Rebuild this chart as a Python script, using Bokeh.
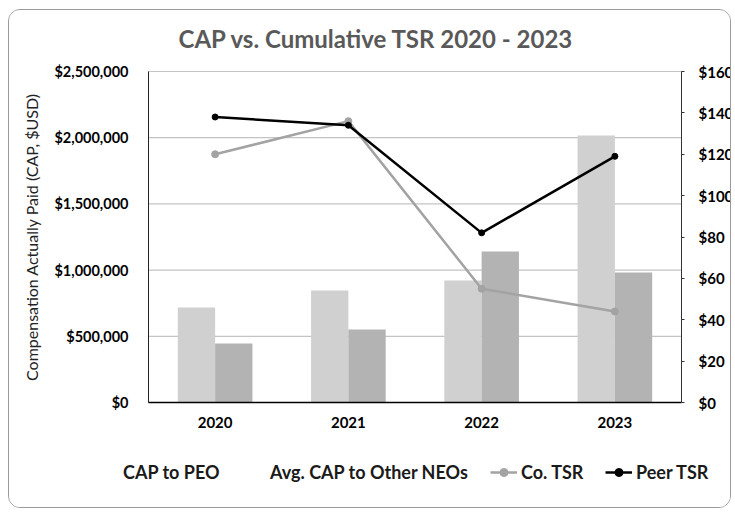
from bokeh.plotting import figure
from bokeh.models import (Range1d, LinearAxis, NumeralTickFormatter, ColumnDataSource,
                          Legend, LegendItem, FixedTicker, Label)
from bokeh.transform import dodge
from bokeh.embed import file_html
from bokeh.resources import INLINE

years = ["2020", "2021", "2022", "2023"]
cap_peo = [717000, 846000, 921000, 2017000]
cap_neo = [446000, 551000, 1140000, 982000]
co_tsr = [120, 136, 55, 44]
peer_tsr = [138, 134, 82, 119]

left_ticks = [0, 500000, 1000000, 1500000, 2000000, 2500000]
right_ticks = [0, 20, 40, 60, 80, 100, 120, 140, 160]
left_max = 2500000
right_max = 160

FONT = "Lato"

# canvas geometry (px) and the plot area inside it
CW, CH = 723, 499
AREA_L, AREA_R, AREA_T, AREA_B = 139, 672, 61, 392

n = len(years)
xc = [i + 0.5 for i in range(n)]
unit_x = (AREA_R - AREA_L) / n
x_start = -AREA_L / unit_x
x_end = n + (CW - AREA_R) / unit_x
per_left = left_max / (AREA_B - AREA_T)
per_right = right_max / (AREA_B - AREA_T)

src = ColumnDataSource(dict(xc=xc, year=years, peo=cap_peo, neo=cap_neo, co=co_tsr, peer=peer_tsr))

p = figure(width=CW, height=CH, title=None, x_axis_type=None, y_axis_type=None,
           x_range=Range1d(x_start, x_end),
           y_range=Range1d(-(CH - AREA_B) * per_left, left_max + AREA_T * per_left),
           output_backend="svg", toolbar_location=None, min_border=0,
           background_fill_color="white", border_fill_color="white")
p.outline_line_color = None
p.styles = {"border": "1px solid #9a9a9a", "border-radius": "12px", "overflow": "hidden",
            "margin-left": "8px", "margin-top": "9px"}
p.extra_y_ranges = {"tsr": Range1d(-(CH - AREA_B) * per_right, right_max + AREA_T * per_right)}

# gridlines at the left-axis ticks, spanning the category area
grid_src = ColumnDataSource(dict(y=left_ticks, x0=[0] * len(left_ticks), x1=[n] * len(left_ticks)))
p.segment(x0="x0", x1="x1", y0="y", y1="y", source=grid_src, line_color="#c4c4c4",
          line_width=1.2, level="underlay")

# left axis
ya = LinearAxis(fixed_location=0, bounds=(0, left_max), ticker=FixedTicker(ticks=left_ticks),
                formatter=NumeralTickFormatter(format="$0,0"))
ya.major_tick_out = 0
ya.major_tick_in = 0
ya.minor_tick_out = 0
ya.minor_tick_in = 0
ya.axis_line_color = "#222222"
ya.major_label_standoff = 20
ya.major_label_text_font = FONT
ya.major_label_text_font_style = "bold"
ya.major_label_text_font_size = "14.5px"
ya.major_label_text_color = "black"
ya.axis_label = "Compensation Actually Paid (CAP, $USD)"
ya.axis_label_text_font = FONT
ya.axis_label_text_font_style = "normal"
ya.axis_label_text_font_size = "16px"
ya.axis_label_text_color = "#222222"
ya.axis_label_standoff = 10
p.add_layout(ya, "left")

# right axis
ra = LinearAxis(y_range_name="tsr", fixed_location=n, bounds=(0, right_max),
                ticker=FixedTicker(ticks=right_ticks), formatter=NumeralTickFormatter(format="$0"))
ra.major_tick_out = 3
ra.major_tick_in = 0
ra.minor_tick_out = 0
ra.minor_tick_in = 0
ra.axis_line_color = "#333333"
ra.major_tick_line_color = "#333333"
ra.major_label_standoff = 14
ra.major_label_text_font = FONT
ra.major_label_text_font_style = "bold"
ra.major_label_text_font_size = "15px"
ra.major_label_text_color = "black"
p.add_layout(ra, "right")

# x axis (categories)
xa = LinearAxis(fixed_location=0, bounds=(0, n), ticker=FixedTicker(ticks=xc),
                major_label_overrides={x: y for x, y in zip(xc, years)})
xa.major_tick_out = 0
xa.major_tick_in = 0
xa.minor_tick_out = 0
xa.minor_tick_in = 0
xa.axis_line_color = "black"
xa.axis_line_width = 1.5
xa.major_label_standoff = 14
xa.major_label_text_font = FONT
xa.major_label_text_font_style = "bold"
xa.major_label_text_font_size = "15px"
xa.major_label_text_color = "black"
p.add_layout(xa, "below")

# bars
r_peo = p.vbar(x=dodge("xc", -0.14), top="peo", width=0.28, source=src,
               fill_color="#d0d0d0", line_color=None)
r_neo = p.vbar(x=dodge("xc", 0.14), top="neo", width=0.28, source=src,
               fill_color="#b3b3b3", line_color=None)

# lines
r_co_l = p.line(x="xc", y="co", source=src, y_range_name="tsr", line_color="#a3a3a3", line_width=2.5)
r_co_m = p.scatter(x="xc", y="co", source=src, y_range_name="tsr", size=7, fill_color="#a3a3a3",
                   line_color="#a3a3a3")
r_peer_l = p.line(x="xc", y="peer", source=src, y_range_name="tsr", line_color="black", line_width=2.5)
r_peer_m = p.scatter(x="xc", y="peer", source=src, y_range_name="tsr", size=6, fill_color="black",
                     line_color="black")

# legend swatches for the bar series (thick line = flat rectangle, centred)
empty = ColumnDataSource(dict(x=[], y=[]))
sw_peo = p.line(x="x", y="y", source=empty, line_color="#d0d0d0", line_width=9)
sw_neo = p.line(x="x", y="y", source=empty, line_color="#b3b3b3", line_width=9)

# title
p.add_layout(Label(x=178 - 9, y=CH - 28, x_units="screen", y_units="screen",
                   text="CAP vs. Cumulative TSR 2020 - 2023", text_align="left",
                   text_baseline="middle", text_font=FONT, text_font_style="bold",
                   text_font_size="24px", text_color="#595959"))

# legends, one per entry
def add_leg(label, renderers, page_x):
    lg = Legend(items=[LegendItem(label=label, renderers=renderers)], location=(page_x - 9, 26),
                orientation="horizontal", padding=0, margin=0, border_line_color=None,
                background_fill_alpha=0, glyph_width=27, glyph_height=20, label_height=20,
                label_standoff=4, label_text_font=FONT, label_text_font_style="bold",
                label_text_font_size="18px", label_text_color="#1a1a1a",
                label_text_baseline="middle")
    p.add_layout(lg, "center")

add_leg("CAP to PEO", [sw_peo], 92)
add_leg("Avg. CAP to Other NEOs", [sw_neo], 239)
add_leg("Co. TSR", [r_co_l, r_co_m], 490)
add_leg("Peer TSR", [r_peer_l, r_peer_m], 605)

open("out.html", "w").write(file_html(p, INLINE))
